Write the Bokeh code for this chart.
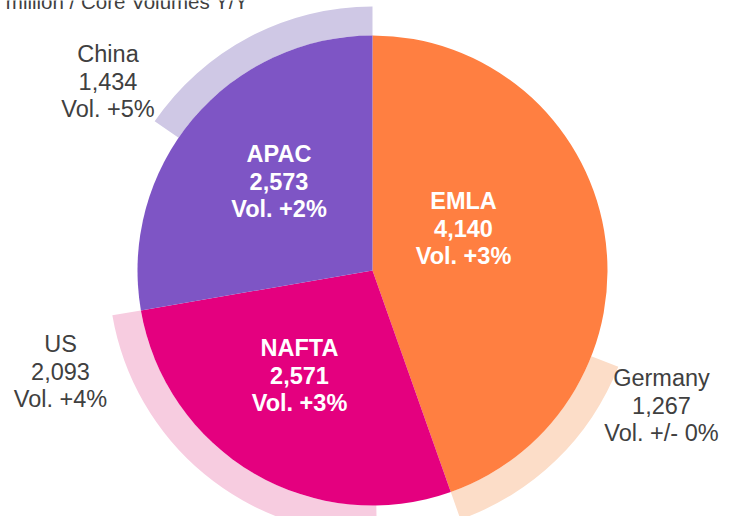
import math
from bokeh.plotting import figure
from bokeh.models import Range1d, ColumnDataSource
from bokeh.core.properties import value
from bokeh.embed import file_html
from bokeh.resources import INLINE

# ---------------- data ----------------
regions = ["EMLA", "NAFTA", "APAC"]
region_values = [4140, 2571, 2573]
region_vol = ["Vol. +3%", "Vol. +3%", "Vol. +2%"]

countries = ["Germany", "US", "China"]          # largest market of each region
country_values = [1267, 2093, 1434]
country_vol = ["Vol. +/- 0%", "Vol. +4%", "Vol. +5%"]

title_text = "million / Core Volumes Y/Y"

# ---------------- style / layout ----------------
region_colors = ["#FF7F41", "#E4007F", "#7E55C5"]
country_colors = ["#FCDDC8", "#F7CCE0", "#CFC8E5"]
FONT = "Liberation Sans"
GREY = "#404040"

W, H = 722, 516
TEXT_SHIFT = -9  # compensate renderer baseline offset

def Y(ref_y):
    return 532 - ref_y

cx, cy = 372, Y(270)
R_PIE = 235
R_RING = 264
LINE_STEP = 27.7

# label anchors (center x, first-line baseline y) in pixel coords from top-left
region_label_pos = [(463, 209), (299, 356), (278.5, 162)]
country_label_pos = [(661, 386), (60, 352), (107.5, 62)]

p = figure(width=W, height=H, output_backend="svg", toolbar_location=None,
           x_range=Range1d(0, W), y_range=Range1d(Y(H), Y(0)),
           min_border=0, background_fill_color="white", border_fill_color="white")
p.axis.visible = False
p.grid.visible = False
p.outline_line_color = None

total = float(sum(region_values))

# region wedges, clockwise from 12 o'clock
starts, ends = [], []
a = math.pi / 2
for v in region_values:
    span = v / total * 2 * math.pi
    ends.append(a)
    starts.append(a - span)
    a -= span

# country rings: start at each region's clockwise end and run counter-clockwise
ring_starts = list(starts)
ring_ends = [s + v / total * 2 * math.pi for s, v in zip(starts, country_values)]

ring_src = ColumnDataSource(dict(start=ring_starts, end=ring_ends, color=country_colors))
p.annular_wedge(x=cx, y=cy, inner_radius=R_PIE, outer_radius=R_RING,
                start_angle="start", end_angle="end", direction="anticlock",
                fill_color="color", line_color=None, source=ring_src)

pie_src = ColumnDataSource(dict(start=starts, end=ends, color=region_colors))
p.wedge(x=cx, y=cy, radius=R_PIE, start_angle="start", end_angle="end",
        direction="anticlock", fill_color="color", line_color=None, source=pie_src)

def label_rows(names, vals, vols, pos):
    xs, ys, ts = [], [], []
    for n, v, vo, (lx, ly) in zip(names, vals, vols, pos):
        for i, t in enumerate([n, f"{v:,}", vo]):
            xs.append(lx)
            ys.append(Y(ly + i * LINE_STEP + TEXT_SHIFT))
            ts.append(t)
    return ColumnDataSource(dict(x=xs, y=ys, t=ts))

fs = "23.5px"
p.text(x="x", y="y", text="t", source=label_rows(regions, region_values, region_vol, region_label_pos),
       text_align="center", text_baseline="alphabetic", text_color="white",
       text_font=value(FONT), text_font_style="bold", text_font_size=fs)
p.text(x="x", y="y", text="t", source=label_rows(countries, country_values, country_vol, country_label_pos),
       text_align="center", text_baseline="alphabetic", text_color=GREY,
       text_font=value(FONT), text_font_size=fs)

p.text(x=[248], y=[Y(10 + TEXT_SHIFT)], text=[title_text], text_align="right", text_baseline="alphabetic",
       text_color=GREY, text_font=value(FONT), text_font_size="20.5px")

open("out.html", "w").write(file_html(p, INLINE))
